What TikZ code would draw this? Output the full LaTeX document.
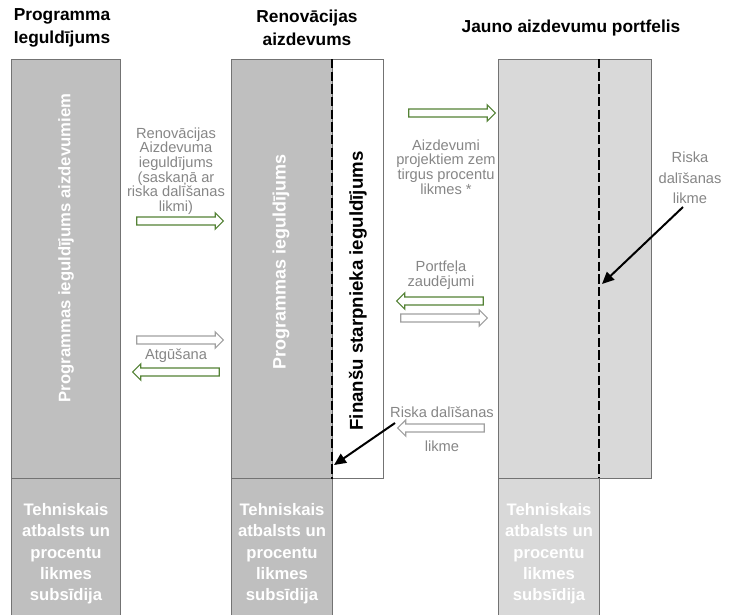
\documentclass[tikz,border=0pt]{standalone}
\usepackage{fontspec}
\setmainfont{Liberation Sans}
\usetikzlibrary{shapes.arrows,arrows.meta}

\definecolor{tumspeleks}{HTML}{BFBFBF}
\definecolor{gaisspeleks}{HTML}{D9D9D9}
\definecolor{robeza}{HTML}{737373}
\definecolor{zala}{HTML}{548235}
\definecolor{bultapeleks}{HTML}{A0A0A0}
\definecolor{tekstpeleks}{HTML}{868686}

\tikzstyle{kaste} = [rectangle, draw=robeza, line width=0.75pt, inner sep=0pt, anchor=north west]
\tikzstyle{virsraksts} = [align=center, font=\fontsize{13}{17.25}\selectfont\bfseries]
\tikzstyle{baltsteksts} = [text=white, align=center, font=\fontsize{12.5}{16}\selectfont\bfseries]
\tikzstyle{pelekteksts} = [text=tekstpeleks, align=center, font=\fontsize{11}{11}\selectfont]
\tikzstyle{zalabulta} = [single arrow, draw=zala, fill=white, line width=0.9pt, inner xsep=0pt, inner ysep=2.6pt, minimum height=65pt, single arrow head extend=3pt]
\tikzstyle{baltabulta} = [zalabulta, draw=bultapeleks]
\tikzstyle{raustita} = [draw=black, line width=2pt, dash pattern=on 7pt off 2.5pt]
\tikzstyle{melnabulta} = [-{Triangle[length=9pt,width=8pt]}, line width=1.5pt]

\begin{document}
\begin{tikzpicture}[x=0.75pt, y=-0.75pt]
        \path[use as bounding box] (0,0) rectangle (737,614);
        \clip (0,0) rectangle (737,614);

        % virsraksti
        \node (virs1) [virsraksts] at (62,28) {Programma\\Ieguldījums};
        \node (virs2) [virsraksts] at (307,28) {Renovācijas\\aizdevums};
        \node (virs3) [virsraksts] at (571,28) {Jauno aizdevumu portfelis};

        % kastes
        \node (prog) [kaste, fill=tumspeleks, minimum width=81.75pt, minimum height=314.25pt] at (11,59) {};
        \node (progapak) [kaste, fill=tumspeleks, minimum width=81.75pt, minimum height=112.5pt] at (11,478) {};
        \node (renov) [kaste, fill=tumspeleks, minimum width=75.75pt, minimum height=314.25pt] at (231,59) {};
        \node (starp) [kaste, fill=white, minimum width=38.25pt, minimum height=314.25pt] at (332,59) {};
        \node (renovapak) [kaste, fill=tumspeleks, minimum width=75.75pt, minimum height=112.5pt] at (231,478) {};
        \node (portf) [kaste, fill=gaisspeleks, minimum width=114.75pt, minimum height=314.25pt] at (498,59) {};
        \node (portfapak) [kaste, fill=gaisspeleks, minimum width=75.75pt, minimum height=112.5pt] at (498,478) {};

        \draw[raustita] (starp.north west) -- (starp.south west);
        \coordinate (svitra1) at (599,59);
        \coordinate (svitra2) at (599,478);
        \draw[raustita] (svitra1) -- (svitra2);

        % teksti kastes
        \node (progteksts) [baltsteksts, rotate=90] at (66,248) {Programmas ieguldījums aizdevumiem};
        \node (renovteksts) [baltsteksts, rotate=90, font=\fontsize{13.5}{16}\selectfont\bfseries] at (281,262) {Programmas ieguldījums};
        \node (starpteksts) [virsraksts, rotate=90, font=\fontsize{14}{16}\selectfont\bfseries] at (358,291) {Finanšu starpnieka ieguldījums};
        \node (tehn1) [baltsteksts] at (66,554) {Tehniskais\\atbalsts un\\procentu\\likmes\\subsīdija};
        \node (tehn2) [baltsteksts] at (282,554) {Tehniskais\\atbalsts un\\procentu\\likmes\\subsīdija};
        \node (tehn3) [baltsteksts] at (549,554) {Tehniskais\\atbalsts un\\procentu\\likmes\\subsīdija};

        % plusmas starp programmu un aizdevumu
        \node (renovaizd) [pelekteksts] at (176,171) {Renovācijas\\Aizdevuma\\ieguldījums\\(saskaņā ar\\riska dalīšanas\\likmi)};
        \node (bulta1) [zalabulta] at (178,221) {};
        \node (bulta2) [baltabulta] at (178,340) {};
        \node (atgus) [pelekteksts] at (176,356) {Atgūšana};
        \node (bulta3) [zalabulta, shape border rotate=180] at (178,372) {};

        % plusmas starp aizdevumu un portfeli
        \node (bulta4) [zalabulta] at (450,113) {};
        \node (projekti) [pelekteksts] at (446,167) {Aizdevumi\\projektiem zem\\tirgus procentu\\likmes *};
        \node (zaud) [pelekteksts] at (441,275) {Portfeļa\\zaudējumi};
        \node (bulta5) [zalabulta, shape border rotate=180] at (442,301) {};
        \node (bulta6) [baltabulta] at (442,318) {};
        \node (riska1) [pelekteksts] at (442,412) {Riska dalīšanas};
        \node (bulta7) [baltabulta, shape border rotate=180] at (443,428) {};
        \node (likme1) [pelekteksts] at (442,446) {likme};
        \node (riska2) [pelekteksts, font=\fontsize{11}{15.5}\selectfont] at (690,178) {Riska\\dalīšanas\\likme};

        \coordinate (sak1) at (395,423);
        \coordinate (dala1) at (334,465);
        \draw[melnabulta] (sak1) -- (dala1);
        \coordinate (sak2) at (683,207);
        \coordinate (dala2) at (602,284);
        \draw[melnabulta] (sak2) -- (dala2);

    \end{tikzpicture}
\end{document}
